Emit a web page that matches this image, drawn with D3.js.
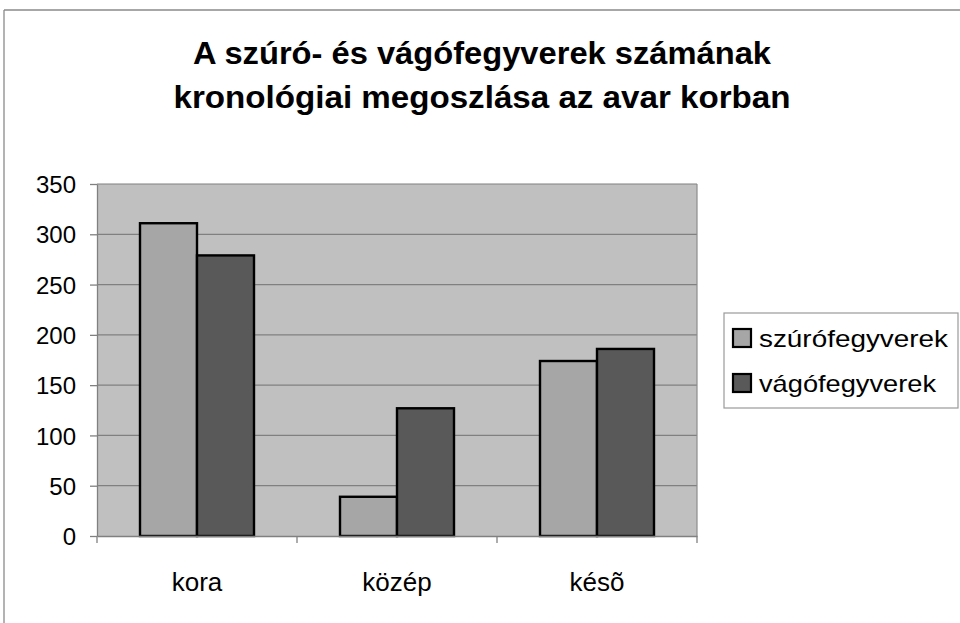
<!DOCTYPE html>
<html>
<head>
<meta charset="utf-8">
<script src="https://cdn.jsdelivr.net/npm/d3@7"></script>
<style>
  html, body { margin: 0; padding: 0; background: #fff; }
  svg { display: block; font-family: Arial, "Liberation Sans", sans-serif; }
</style>
</head>
<body>
<svg id="chart" width="960" height="623"></svg>
<script>
const titleLines = ["A szúró- és vágófegyverek számának", "kronológiai megoszlása az avar korban"];
const categories = ["kora", "közép", "késõ"];
const seriesNames = ["szúrófegyverek", "vágófegyverek"];
const szuroValues = [311, 39, 174];
const vagoValues = [279, 127, 186];
const yTicks = [0, 50, 100, 150, 200, 250, 300, 350];
const seriesColors = ["#a6a6a6", "#595959"];

const svg = d3.select("#chart");
const W = 960, H = 623;
const plot = { left: 97, right: 697, top: 184, bottom: 536 };

// outer border (top and left visible)
svg.append("line").attr("x1", 4).attr("y1", 10).attr("x2", W).attr("y2", 10)
  .attr("stroke", "#8a8a8a").attr("stroke-width", 1.3);
svg.append("line").attr("x1", 4).attr("y1", 10).attr("x2", 4).attr("y2", H)
  .attr("stroke", "#8a8a8a").attr("stroke-width", 1.3);

// title
const titleWidths = [578, 617];
svg.append("g").selectAll("text").data(titleLines).join("text")
  .attr("x", 482).attr("y", (d, i) => 64 + i * 44)
  .attr("text-anchor", "middle")
  .attr("font-size", 31).attr("font-weight", "bold").attr("fill", "#000")
  .attr("textLength", (d, i) => titleWidths[i]).attr("lengthAdjust", "spacingAndGlyphs")
  .text(d => d);

const x = d3.scaleBand().domain(categories).range([plot.left, plot.right]).paddingInner(0).paddingOuter(0);
const inner = d3.scaleBand().domain(seriesNames).range([43, 200 - 43]).padding(0);
const y = d3.scaleLinear().domain([0, 350]).range([plot.bottom, plot.top]);

// plot background
svg.append("rect").attr("x", plot.left).attr("y", plot.top)
  .attr("width", plot.right - plot.left).attr("height", plot.bottom - plot.top)
  .attr("fill", "#c0c0c0");

// gridlines
svg.append("g").selectAll("line").data(yTicks.filter(t => t > 0)).join("line")
  .attr("x1", plot.left).attr("x2", plot.right)
  .attr("y1", d => y(d)).attr("y2", d => y(d))
  .attr("stroke", "#808080").attr("stroke-width", 1.2);

// right border of plot
svg.append("line").attr("x1", plot.right).attr("x2", plot.right)
  .attr("y1", plot.top).attr("y2", plot.bottom)
  .attr("stroke", "#8c8c8c").attr("stroke-width", 1.2);

// bars
const groups = svg.append("g").selectAll("g").data(categories).join("g")
  .attr("transform", d => `translate(${x(d)},0)`);
groups.selectAll("rect").data((d, i) => [
    { s: seriesNames[0], v: szuroValues[i], c: seriesColors[0] },
    { s: seriesNames[1], v: vagoValues[i], c: seriesColors[1] }
  ]).join("rect")
  .attr("x", d => inner(d.s)).attr("width", inner.bandwidth())
  .attr("y", d => y(d.v)).attr("height", d => y(0) - y(d.v))
  .attr("fill", d => d.c).attr("stroke", "#000").attr("stroke-width", 2.4);

// y axis
const yAxis = svg.append("g").attr("transform", `translate(${plot.left},0)`)
  .call(d3.axisLeft(y).tickValues(yTicks).tickSize(7).tickPadding(14).tickSizeOuter(0));
yAxis.select(".domain").attr("stroke", "#808080").attr("stroke-width", 1.3);
yAxis.selectAll(".tick line").attr("stroke", "#808080").attr("stroke-width", 1.3);
yAxis.selectAll(".tick text").attr("font-size", 24).attr("fill", "#000")
  .attr("font-family", "Arial, 'Liberation Sans', sans-serif").attr("dy", "0.36em");

// x axis
const xAxis = svg.append("g").attr("transform", `translate(0,${plot.bottom})`)
  .call(d3.axisBottom(x).tickSize(0).tickPadding(37));
xAxis.select(".domain").attr("stroke", "#808080").attr("stroke-width", 1.3);
xAxis.selectAll(".tick text").attr("font-size", 26).attr("fill", "#000")
  .attr("font-family", "Arial, 'Liberation Sans', sans-serif");
// category boundary ticks
const boundaries = categories.map(c => x(c)).concat([x(categories[categories.length - 1]) + x.bandwidth()]);
svg.append("g").selectAll("line").data(boundaries).join("line")
  .attr("x1", d => d).attr("x2", d => d)
  .attr("y1", plot.bottom).attr("y2", plot.bottom + 7)
  .attr("stroke", "#808080").attr("stroke-width", 1.3);

// legend
const lg = svg.append("g");
lg.append("rect").attr("x", 724).attr("y", 313).attr("width", 234).attr("height", 95)
  .attr("fill", "#fff").attr("stroke", "#9a9a9a").attr("stroke-width", 1.2);
const legendWidths = [189, 177];
const items = lg.selectAll("g.item").data(seriesNames).join("g").attr("class", "item")
  .attr("transform", (d, i) => `translate(0,${i * 45})`);
items.append("rect").attr("x", 733).attr("y", 329).attr("width", 18).attr("height", 18)
  .attr("fill", (d, i) => seriesColors[i]).attr("stroke", "#000").attr("stroke-width", 2.2);
items.append("text").attr("x", 759).attr("y", 347)
  .attr("font-size", 24).attr("fill", "#000")
  .attr("textLength", (d, i) => legendWidths[i]).attr("lengthAdjust", "spacingAndGlyphs")
  .text(d => d);
</script>
</body>
</html>
